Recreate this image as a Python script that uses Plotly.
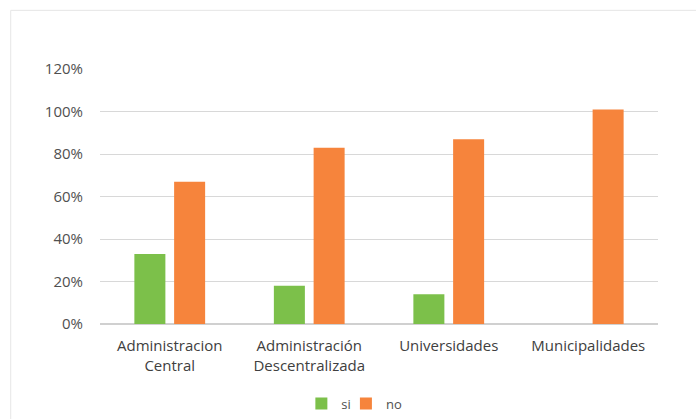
import plotly.graph_objects as go

categories = ["Administracion<br>Central", "Administración<br>Descentralizada", "Universidades", "Municipalidades"]
si_values = [0.33, 0.18, 0.14, 0.0]
no_values = [0.67, 0.83, 0.87, 1.01]
y_ticks = [0, 0.2, 0.4, 0.6, 0.8, 1.0, 1.2]

green = "#7CC04A"
orange = "#F6843C"

fig = go.Figure()
fig.add_trace(go.Bar(name="si", x=categories, y=si_values, legend="legend",
                     marker=dict(color=green, line=dict(width=0))))
fig.add_trace(go.Bar(name="no", x=categories, y=no_values, legend="legend2",
                     marker=dict(color=orange, line=dict(width=0))))

leg_common = dict(orientation="h", xref="container", yref="container", xanchor="left",
                  y=0.037, yanchor="middle", itemwidth=30, bgcolor="rgba(0,0,0,0)",
                  font=dict(size=13, color="#505050"))

fig.update_layout(
    width=696, height=419,
    margin=dict(l=100, r=38, t=69, b=95, autoexpand=False),
    paper_bgcolor="white", plot_bgcolor="white",
    barmode="group", bargap=0.43, bargroupgap=0.22,
    font=dict(family="Open Sans, sans-serif", size=13, color="#505050"),
    showlegend=True,
    legend=dict(x=0.433, **leg_common),
    legend2=dict(x=0.497, **leg_common),
    xaxis=dict(showgrid=False, showline=False, ticks="", ticklabelstandoff=11,
               tickfont=dict(size=15, color="#404040")),
    yaxis=dict(range=[0, 1.2], tickvals=y_ticks, tickformat=".0%", showgrid=True,
               gridcolor="#d8d8d8", gridwidth=1, zeroline=True, zerolinecolor="#d0d0d0",
               ticks="", ticklabelstandoff=16, tickfont=dict(size=15, color="#505050")),
    shapes=[dict(type="rect", xref="paper", yref="paper", x0=-0.16, x1=1.2, y0=-0.5, y1=1.23,
                 line=dict(color="#e6e6e6", width=1), layer="below")],
)

fig.write_html("out.html")
